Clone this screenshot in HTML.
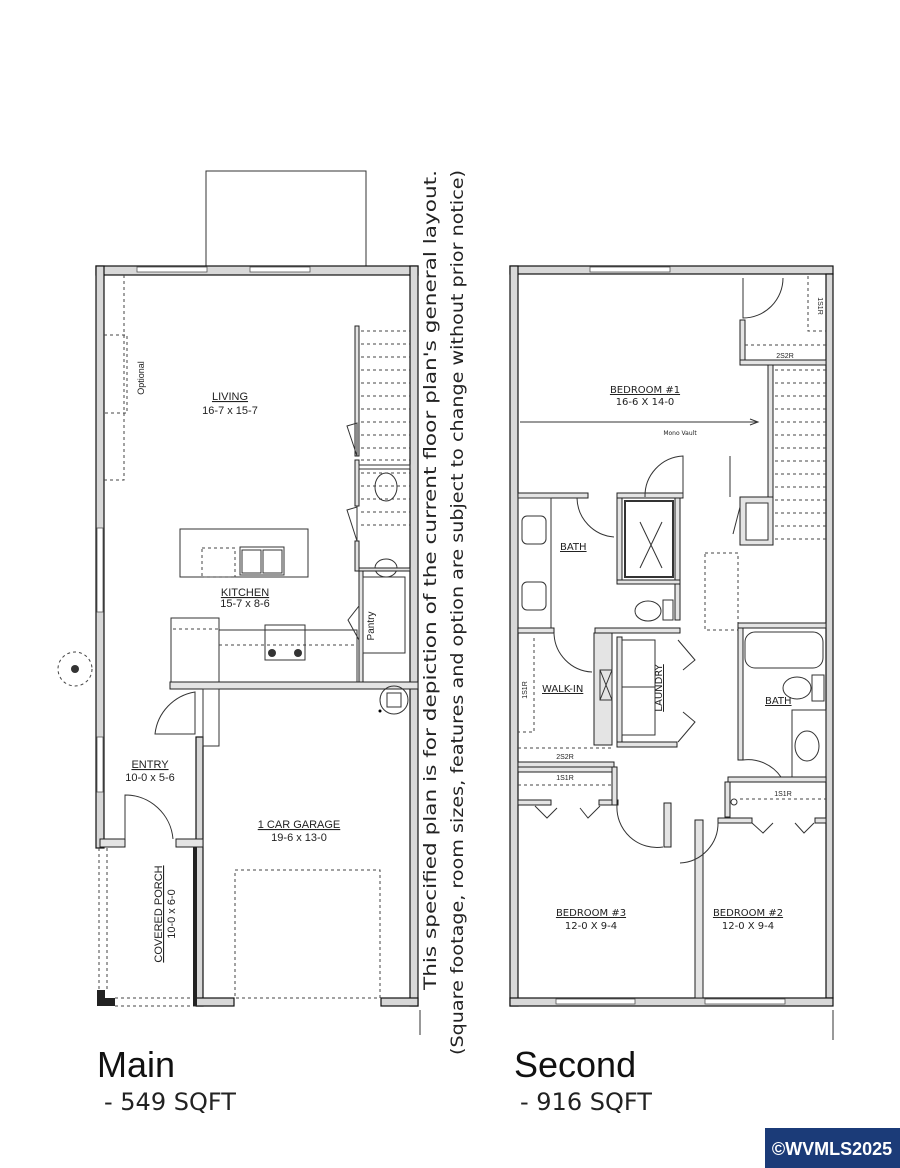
<!DOCTYPE html>
<html><head><meta charset="utf-8"><style>
html,body{margin:0;padding:0;background:#fff;width:900px;height:1168px;overflow:hidden}
svg{display:block}
.w{fill:#e4e4e4;stroke:#222;stroke-width:1}
.o{fill:#d8d8d8;stroke:#111;stroke-width:1.2}
.l{fill:none;stroke:#333;stroke-width:1}
.d{fill:none;stroke:#444;stroke-width:1;stroke-dasharray:3 3}
.t{font-family:"Liberation Sans",sans-serif;fill:#222;text-anchor:middle}
.h{font-family:"DejaVu Sans","Liberation Sans",sans-serif;fill:#222}
</style></head><body>
<svg width="900" height="1168" viewBox="0 0 900 1168" xmlns="http://www.w3.org/2000/svg">
<!-- ===== MAIN FLOOR ===== -->
<rect x="206" y="171" width="160" height="98" class="l"/>
<!-- outer walls -->
<rect x="96" y="266" width="322" height="9" class="o"/>
<rect x="137" y="267" width="70" height="5" fill="#fff" stroke="#555" stroke-width=".8"/>
<rect x="250" y="267" width="60" height="5" fill="#fff" stroke="#555" stroke-width=".8"/>
<rect x="96" y="266" width="8" height="582" class="o"/>
<rect x="97" y="528" width="6" height="84" fill="#fff" stroke="#555" stroke-width=".8"/>
<rect x="97" y="737" width="6" height="55" fill="#fff" stroke="#555" stroke-width=".8"/>
<rect x="410" y="266" width="8" height="740" class="o"/>
<!-- living dashed optional -->
<path d="M124 275 V480 H104 M104 335 H127 V413 H104" class="d"/>
<text class="t" font-size="9" transform="translate(144,378) rotate(-90)">Optional</text>
<text class="t" font-size="11" x="230" y="400" text-decoration="underline">LIVING</text>
<text class="t" font-size="11" x="230" y="414">16-7 x 15-7</text>
<!-- stairs -->
<rect x="355" y="326" width="4" height="130" class="w"/>
<rect x="355" y="460" width="4" height="46" class="w"/>
<rect x="355" y="541" width="4" height="30" class="w"/>
<g class="d">
<path d="M361 331H410M361 344H410M361 357H410M361 370H410M361 383H410M361 396H410M361 409H410M361 422H410M361 435H410M361 448H410M361 460H410M361 473H410M361 486H410M361 499H410M361 512H410M361 525H410"/>
</g>
<path d="M347 426 L357 423 L357 456 Z M347 510 L357 507 L357 541 Z" class="l"/>
<rect x="359" y="465" width="51" height="4" class="l"/>
<ellipse cx="386" cy="487" rx="11" ry="14" class="l"/>
<ellipse cx="386" cy="568" rx="11" ry="9" class="l"/>
<rect x="359" y="568" width="51" height="3" class="w"/>
<!-- pantry -->
<rect x="359" y="571" width="4" height="112" class="w"/>
<rect x="363" y="577" width="42" height="76" class="l"/>
<path d="M348 620 L359 606 L359 640 Z" class="l"/>
<text class="t" font-size="10" transform="translate(374,626) rotate(-90)">Pantry</text>
<!-- island -->
<rect x="180" y="529" width="128" height="48" class="l"/>
<rect x="202" y="548" width="33" height="29" class="d"/>
<rect x="240" y="547" width="44" height="28" class="l"/>
<rect x="242" y="550" width="19" height="23" class="l"/><rect x="263" y="550" width="19" height="23" class="l"/>
<text class="t" font-size="11" x="245" y="596" text-decoration="underline">KITCHEN</text>
<text class="t" font-size="11" x="245" y="607">15-7 x 8-6</text>
<!-- counter -->
<rect x="171" y="618" width="48" height="66" class="l"/>
<rect x="219" y="630" width="138" height="53" class="l"/>
<path d="M173 629H219M219 645H357" class="d"/>
<rect x="265" y="625" width="40" height="35" class="l"/>
<circle cx="272" cy="653" r="4" fill="#333"/><circle cx="298" cy="653" r="4" fill="#333"/>
<!-- mid wall -->
<rect x="170" y="682" width="248" height="7" class="w"/>
<!-- garage -->
<rect x="196" y="737" width="7" height="269" class="o"/>
<rect x="203" y="689" width="16" height="57" class="l"/>
<path d="M155 734 A48 48 0 0 1 195 692 V734 Z" class="l"/>
<circle cx="394" cy="700" r="14" class="l"/><rect x="387" y="693" width="14" height="14" class="l"/>
<circle cx="380" cy="711" r="1.5" fill="#000"/>
<rect x="196" y="998" width="38" height="8" class="o"/>
<rect x="381" y="998" width="37" height="8" class="o"/>
<rect x="235" y="870" width="145" height="128" class="d"/>
<text class="t" font-size="11" x="299" y="828" text-decoration="underline">1 CAR GARAGE</text>
<text class="t" font-size="11" x="299" y="841">19-6 x 13-0</text>
<!-- entry -->
<rect x="100" y="839" width="25" height="8" class="w"/>
<rect x="176" y="839" width="27" height="8" class="w"/>
<path d="M125 839 V795 A48 48 0 0 1 173 839" class="l"/>
<text class="t" font-size="11" x="150" y="768" text-decoration="underline">ENTRY</text>
<text class="t" font-size="11" x="150" y="781">10-0 x 5-6</text>
<!-- porch -->
<path d="M99 848V990M107 848V990M115 998H196M115 1006H196" class="d"/>
<path d="M97 990H105V998H115V1006H97Z" fill="#222"/>
<rect x="193" y="847" width="4" height="159" fill="#222"/>
<text class="t" font-size="11" transform="translate(162,914) rotate(-90)" text-decoration="underline">COVERED PORCH</text>
<text class="t" font-size="11" transform="translate(175,914) rotate(-90)">10-0 x 6-0</text>
<!-- hose bib -->
<circle cx="75" cy="669" r="17" class="d"/><circle cx="75" cy="669" r="4" fill="#333"/>
<!-- vertical note -->
<line x1="420" y1="1010" x2="420" y2="1035" stroke="#333"/>
<text class="h" font-size="17" transform="translate(436,990) rotate(-90)" textLength="820" lengthAdjust="spacingAndGlyphs">This specified plan is for depiction of the current floor plan's general layout.</text>
<text class="h" font-size="17" transform="translate(463,1055) rotate(-90)" textLength="885" lengthAdjust="spacingAndGlyphs">(Square footage, room sizes, features and option are subject to change without prior notice)</text>

<!-- ===== SECOND FLOOR ===== -->
<rect x="510" y="266" width="323" height="8" class="o"/>
<rect x="590" y="267" width="80" height="5" fill="#fff" stroke="#555" stroke-width=".8"/>
<rect x="510" y="266" width="8" height="740" class="o"/>
<rect x="826" y="274" width="7" height="724" class="o"/>
<rect x="510" y="998" width="323" height="8" class="o"/>
<rect x="556" y="999" width="79" height="5" fill="#fff" stroke="#555" stroke-width=".8"/>
<rect x="705" y="999" width="80" height="5" fill="#fff" stroke="#555" stroke-width=".8"/>
<line x1="833" y1="1010" x2="833" y2="1040" stroke="#333"/>
<!-- closet top right -->
<rect x="740" y="320" width="5" height="45" class="w"/>
<rect x="740" y="360" width="86" height="5" class="w"/>
<path d="M743 278 V318 A40 40 0 0 0 783 278" class="l"/>
<path d="M808 276V331H826M745 345H826" class="d"/>
<text class="t" font-size="7" transform="translate(818,306) rotate(90)">1S1R</text>
<text class="t" font-size="7" x="785" y="358">2S2R</text>
<!-- bedroom 1 -->
<text class="h" font-size="10" x="645" y="393" text-anchor="middle" text-decoration="underline">BEDROOM #1</text>
<text class="h" font-size="10" x="645" y="405" text-anchor="middle">16-6 X 14-0</text>
<path d="M520 422H758" stroke="#333"/><path d="M750 419L758 422L750 425" class="l"/>
<text class="h" font-size="6" x="680" y="435" text-anchor="middle">Mono Vault</text>
<!-- stairs right -->
<rect x="768" y="365" width="5" height="132" class="w"/>
<g class="d"><path d="M775 370H826M775 383H826M775 396H826M775 409H826M775 422H826M775 435H826M775 448H826M775 461H826M775 474H826M775 487H826M775 500H826M775 513H826M775 526H826M775 539H826"/></g>
<rect x="740" y="497" width="33" height="48" class="w"/>
<rect x="746" y="503" width="22" height="37" fill="#fff" stroke="#333"/>
<path d="M733 534L740 507" class="l"/>
<!-- bed1 bottom wall -->
<rect x="518" y="493" width="70" height="5" class="w"/>
<rect x="617" y="493" width="66" height="5" class="w"/>
<path d="M683 497V456A40 40 0 0 0 645 497" class="l"/>
<path d="M730 497V456" stroke="#333"/>
<path d="M577 498A40 40 0 0 0 614 537" class="l"/>
<!-- shower -->
<rect x="617" y="498" width="5" height="85" class="w"/>
<rect x="675" y="498" width="5" height="122" class="w"/>
<rect x="625" y="501" width="48" height="76" fill="none" stroke="#333" stroke-width="2"/>
<path d="M640 522L662 568M662 522L640 568" class="l"/>
<rect x="617" y="580" width="63" height="4" class="w"/>
<ellipse cx="648" cy="611" rx="13" ry="10" class="l"/><rect x="663" y="600" width="10" height="20" class="l"/>
<!-- left bath -->
<rect x="518" y="498" width="33" height="130" class="l"/>
<rect x="522" y="516" width="24" height="28" rx="5" class="l"/>
<rect x="522" y="582" width="24" height="28" rx="5" class="l"/>
<text class="h" font-size="10" x="560" y="550" text-decoration="underline">BATH</text>
<rect x="518" y="628" width="36" height="5" class="w"/>
<rect x="595" y="628" width="85" height="5" class="w"/>
<path d="M554 633A40 40 0 0 0 592 672" class="l"/>
<!-- walk-in -->
<rect x="594" y="633" width="18" height="112" class="w"/>
<rect x="600" y="670" width="12" height="30" class="l"/>
<path d="M600 670L612 700M612 670L600 700" class="l"/>
<path d="M534 638V732H518M518 748H612" class="d"/>
<text class="t" font-size="7" transform="translate(527,690) rotate(-90)">1S1R</text>
<text class="h" font-size="10" x="542" y="692" text-decoration="underline">WALK-IN</text>
<rect x="518" y="762" width="96" height="5" class="w"/>
<text class="t" font-size="7" x="565" y="759">2S2R</text>
<!-- laundry -->
<rect x="617" y="637" width="5" height="110" class="w"/>
<rect x="617" y="742" width="60" height="5" class="w"/>
<rect x="622" y="640" width="33" height="95" class="l"/>
<line x1="622" y1="687" x2="655" y2="687" class="l"/>
<text class="h" font-size="10" transform="translate(662,688) rotate(-90)" text-anchor="middle" text-decoration="underline">LAUNDRY</text>
<path d="M678 640L695 660L683 670M678 742L695 722L683 712" class="l"/>
<!-- dashed attic -->
<rect x="705" y="553" width="33" height="77" class="d"/>
<!-- right bath -->
<rect x="738" y="623" width="88" height="5" class="w"/>
<rect x="738" y="628" width="5" height="132" class="w"/>
<rect x="745" y="632" width="78" height="36" rx="10" class="l"/>
<ellipse cx="797" cy="688" rx="14" ry="11" class="l"/><rect x="812" y="675" width="12" height="26" class="l"/>
<text class="h" font-size="10" x="765" y="704" text-decoration="underline">BATH</text>
<rect x="792" y="710" width="34" height="67" class="l"/>
<ellipse cx="807" cy="746" rx="12" ry="15" class="l"/>
<path d="M743 760A40 40 0 0 1 781 777" class="l"/>
<rect x="728" y="777" width="98" height="5" class="w"/>
<!-- 1S1R strips -->
<rect x="518" y="767" width="96" height="5" class="w"/>
<path d="M518 785H612" class="d"/>
<text class="t" font-size="7" x="565" y="780">1S1R</text>
<rect x="518" y="800" width="33" height="5" class="w"/><rect x="599" y="800" width="19" height="5" class="w"/>
<rect x="612" y="767" width="5" height="38" class="w"/>
<path d="M535 806L547 818L557 808M580 808L588 818L600 806" class="l"/>
<path d="M740 799H826" class="d"/>
<text class="t" font-size="7" x="783" y="796">1S1R</text>
<rect x="725" y="782" width="5" height="35" class="w"/>
<circle cx="734" cy="802" r="3" class="l"/>
<rect x="718" y="818" width="34" height="5" class="w"/><rect x="815" y="818" width="11" height="5" class="w"/>
<path d="M752 823L763 833L773 823M795 823L804 833L814 823" class="l"/>
<path d="M617 805A40 40 0 0 0 663 847" class="l"/>
<!-- bedroom divider -->
<rect x="664" y="803" width="7" height="44" class="w"/>
<rect x="695" y="820" width="8" height="178" class="w"/>
<path d="M680 863A40 40 0 0 0 718 822" class="l"/>
<text class="h" font-size="10" x="591" y="916" text-anchor="middle" text-decoration="underline">BEDROOM #3</text>
<text class="h" font-size="10" x="591" y="929" text-anchor="middle">12-0 X 9-4</text>
<text class="h" font-size="10" x="748" y="916" text-anchor="middle" text-decoration="underline">BEDROOM #2</text>
<text class="h" font-size="10" x="748" y="929" text-anchor="middle">12-0 X 9-4</text>

<!-- captions -->
<text x="97" y="1077" font-family="Liberation Sans,sans-serif" font-size="36" fill="#111">Main</text>
<text x="104" y="1110" class="h" font-size="24" fill="#111">- 549 SQFT</text>
<text x="514" y="1077" font-family="Liberation Sans,sans-serif" font-size="36" fill="#111">Second</text>
<text x="520" y="1110" class="h" font-size="24" fill="#111">- 916 SQFT</text>
<rect x="765" y="1128" width="135" height="40" fill="#1b3b78"/>
<text x="832" y="1155" font-family="Liberation Sans,sans-serif" font-weight="bold" font-size="18" fill="#fff" text-anchor="middle">©WVMLS2025</text>
</svg>
</body></html>
